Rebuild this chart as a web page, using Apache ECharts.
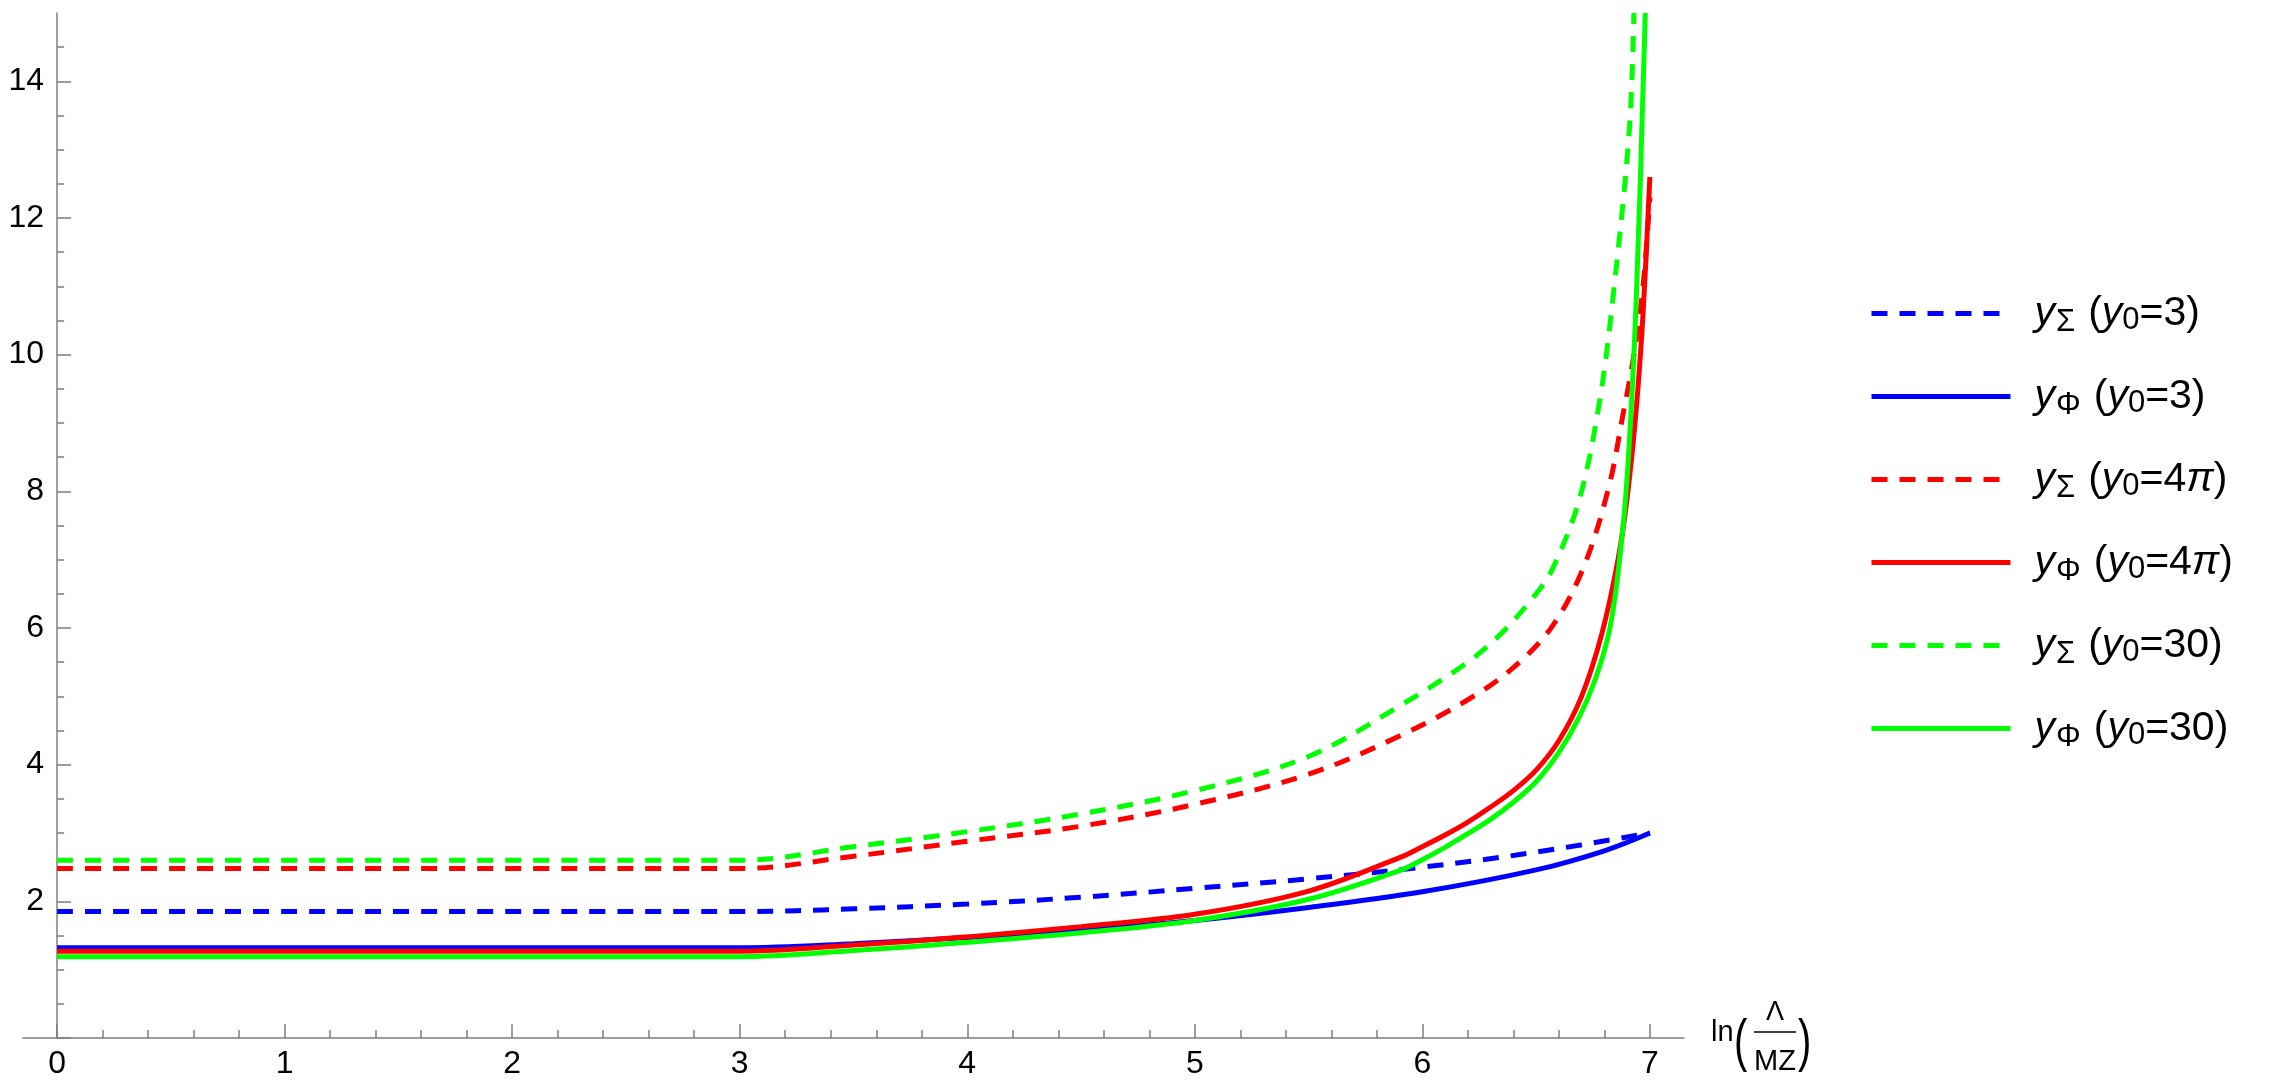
<!DOCTYPE html>
<html>
<head>
<meta charset="utf-8">
<title>y running</title>
<script src="https://cdn.jsdelivr.net/npm/echarts@6.0.0/dist/echarts.min.js"></script>
<style>
  html, body { margin: 0; padding: 0; background: #fff; }
  #chart { width: 2269px; height: 1092px; }
</style>
</head>
<body>
<div id="chart"></div>
<script>
// values, x = ln(Lambda/MZ)
const xSigma3 = [0, 3, 3.5, 4, 4.5, 5, 5.5, 6, 6.5, 7]
const ySigma3 = [1.85, 1.85, 1.89, 1.96, 2.06, 2.19, 2.33, 2.5, 2.72, 3.0]

const xPhi3 = [0, 3, 3.5, 4, 4.5, 5, 5.5, 6, 6.5, 6.8, 7]
const yPhi3 = [1.32, 1.32, 1.38, 1.47, 1.58, 1.72, 1.91, 2.14, 2.46, 2.74, 3.0]

const xSigma4pi = [0, 3, 3.5, 4, 4.5, 5, 5.5, 5.9, 6.2, 6.4, 6.57, 6.71, 6.82, 6.88, 6.93, 6.97, 7.0]
const ySigma4pi = [2.48, 2.48, 2.66, 2.88, 3.1, 3.42, 3.86, 4.42, 4.95, 5.42, 6.02, 6.9, 8.07, 9.09, 10.0, 11.0, 12.3]

const xPhi4pi = [0, 3, 3.5, 4, 4.5, 5, 5.5, 5.9, 6.0, 6.1, 6.2, 6.3, 6.4, 6.5, 6.6, 6.7, 6.79, 6.86, 6.9, 6.94, 6.97, 7.0]
const yPhi4pi = [1.27, 1.27, 1.36, 1.48, 1.63, 1.81, 2.15, 2.64, 2.8, 2.97, 3.16, 3.38, 3.62, 3.92, 4.35, 5.0, 5.93, 7.0, 7.9, 9.2, 10.6, 12.6]

const xSigma30 = [0, 3, 3.5, 4, 4.5, 5, 5.5, 5.9, 6.2, 6.35, 6.5, 6.57, 6.69, 6.78, 6.84, 6.91, 6.93]
const ySigma30 = [2.6, 2.6, 2.8, 3.02, 3.28, 3.62, 4.12, 4.86, 5.5, 5.93, 6.5, 6.85, 7.88, 9.34, 10.9, 13.3, 15.0]

const xPhi30 = [0, 3, 3.5, 4, 4.5, 5, 5.5, 5.9, 6.0, 6.1, 6.2, 6.3, 6.4, 6.5, 6.6, 6.69, 6.76, 6.82, 6.86, 6.9, 6.94, 6.98]
const yPhi30 = [1.19, 1.19, 1.28, 1.4, 1.54, 1.72, 2.03, 2.45, 2.61, 2.79, 2.99, 3.2, 3.45, 3.75, 4.18, 4.7, 5.25, 5.93, 6.8, 8.2, 10.8, 15.0]

const xTicks = [0, 1, 2, 3, 4, 5, 6, 7]
const yTicks = [2, 4, 6, 8, 10, 12, 14]

const names = ['yΣ (y0=3)', 'yΦ (y0=3)', 'yΣ (y0=4π)', 'yΦ (y0=4π)', 'yΣ (y0=30)', 'yΦ (y0=30)']
const richNames = {
  'yΣ (y0=3)': '{i|y}{s|Σ}{p|(}{i|y}{z|0}{n|=3)}',
  'yΦ (y0=3)': '{i|y}{s|Φ}{p|(}{i|y}{z|0}{n|=3)}',
  'yΣ (y0=4π)': '{i|y}{s|Σ}{p|(}{i|y}{z|0}{n|=4}{i|π}{n|)}',
  'yΦ (y0=4π)': '{i|y}{s|Φ}{p|(}{i|y}{z|0}{n|=4}{i|π}{n|)}',
  'yΣ (y0=30)': '{i|y}{s|Σ}{p|(}{i|y}{z|0}{n|=30)}',
  'yΦ (y0=30)': '{i|y}{s|Φ}{p|(}{i|y}{z|0}{n|=30)}',
}

const zip = (xs, ys) => xs.map((x, i) => [x, ys[i]])

const FONT = '"Liberation Sans", Arial, sans-serif'
const AXIS_GRAY = '#7f7f7f'

const makeLine = (name, xs, ys, color, dashed) => ({
  name: name,
  type: 'line',
  data: zip(xs, ys),
  showSymbol: false,
  symbol: 'none',
  smooth: 0.35,
  lineStyle: {
    color: color,
    width: 5,
    type: dashed ? [16, 12] : 'solid',
  },
  itemStyle: { color: color },
  emphasis: { disabled: true },
})

const chart = echarts.init(document.getElementById('chart'))

const option = {
  animation: false,
  backgroundColor: '#fff',
  grid: {
    left: 23,
    right: 585,
    top: 13,
    bottom: 54,
    containLabel: false,
    outerBoundsMode: 'none',
  },
  xAxis: {
    type: 'value',
    min: -0.15,
    max: 7.15,
    splitNumber: 7,
    axisLine: { lineStyle: { color: AXIS_GRAY, width: 1.5 } },
    axisTick: {
      inside: true,
      length: 14,
      customValues: xTicks,
      lineStyle: { color: AXIS_GRAY, width: 1.5 },
    },
    minorTick: {
      show: true,
      splitNumber: 5,
      length: 8,
      lineStyle: { color: AXIS_GRAY, width: 1.5 },
    },
    splitLine: { show: false },
    axisLabel: {
      customValues: xTicks,
      formatter: (v) => (Number.isInteger(v) ? String(v) : ''),
      color: '#000',
      fontFamily: FONT,
      fontSize: 32,
      margin: 10,
    },
  },
  yAxis: {
    type: 'value',
    min: 0,
    max: 15,
    interval: 2,
    axisLine: { show: true, onZero: true, lineStyle: { color: AXIS_GRAY, width: 1.5 } },
    axisTick: {
      show: true,
      inside: true,
      length: 14,
      customValues: [0].concat(yTicks),
      lineStyle: { color: AXIS_GRAY, width: 1.5 },
    },
    minorTick: {
      show: true,
      splitNumber: 4,
      length: 7,
      lineStyle: { color: AXIS_GRAY, width: 1.5 },
    },
    splitLine: { show: false },
    axisLabel: {
      customValues: yTicks,
      formatter: (v) => (v === 0 || v === 15 ? '' : String(v)),
      color: '#000',
      fontFamily: FONT,
      fontSize: 32,
      // labels stay at the grid edge, pull them over to the zero line
      margin: -21,
    },
  },
  legend: {
    orient: 'vertical',
    left: 1864,
    top: 284,
    padding: 5,
    itemWidth: 139,
    itemHeight: 48,
    itemGap: 34,
    data: names,
    formatter: (name) => richNames[name],
    itemStyle: { opacity: 0, color: 'rgba(0,0,0,0)', borderWidth: 0 },
    lineStyle: { width: 5 },
    textStyle: {
      color: '#000',
      fontFamily: FONT,
      padding: [0, 0, 0, 19],
      rich: {
        i: { fontFamily: FONT, fontStyle: 'italic', fontSize: 41, lineHeight: 48, color: '#000' },
        n: { fontFamily: FONT, fontSize: 41, lineHeight: 48, color: '#000' },
        p: { fontFamily: FONT, fontSize: 41, lineHeight: 48, padding: [0, 0, 0, 13], color: '#000' },
        s: { fontFamily: FONT, fontSize: 31, lineHeight: 31, padding: [18, 0, 0, 1], color: '#000' },
        z: { fontFamily: FONT, fontSize: 31, lineHeight: 31, padding: [14, 0, 0, 0], color: '#000' },
      },
    },
  },
  graphic: [
    { type: 'text', x: 1711, y: 1033, style: { text: 'ln', font: '29px ' + FONT, fill: '#000', verticalAlign: 'middle', align: 'left' } },
    { type: 'text', x: 1734, y: 1044, scaleY: 1.45, style: { text: '(', font: '40px ' + FONT, fill: '#000', verticalAlign: 'middle', align: 'left' } },
    { type: 'text', x: 1775, y: 1013, style: { text: 'Λ', font: '27px ' + FONT, fill: '#000', verticalAlign: 'middle', align: 'center' } },
    { type: 'line', shape: { x1: 1754, y1: 1032, x2: 1796, y2: 1032 }, style: { stroke: '#000', lineWidth: 1.5 } },
    { type: 'text', x: 1775, y: 1062, style: { text: 'MZ', font: '29px ' + FONT, fill: '#000', verticalAlign: 'middle', align: 'center' } },
    { type: 'text', x: 1798, y: 1044, scaleY: 1.45, style: { text: ')', font: '40px ' + FONT, fill: '#000', verticalAlign: 'middle', align: 'left' } },
  ],
  series: [
    makeLine(names[0], xSigma3, ySigma3, '#0000ff', true),
    makeLine(names[1], xPhi3, yPhi3, '#0000ff', false),
    makeLine(names[2], xSigma4pi, ySigma4pi, '#ff0000', true),
    makeLine(names[3], xPhi4pi, yPhi4pi, '#ff0000', false),
    makeLine(names[4], xSigma30, ySigma30, '#00ff00', true),
    makeLine(names[5], xPhi30, yPhi30, '#00ff00', false),
  ],
}

chart.setOption(option)
</script>
</body>
</html>
